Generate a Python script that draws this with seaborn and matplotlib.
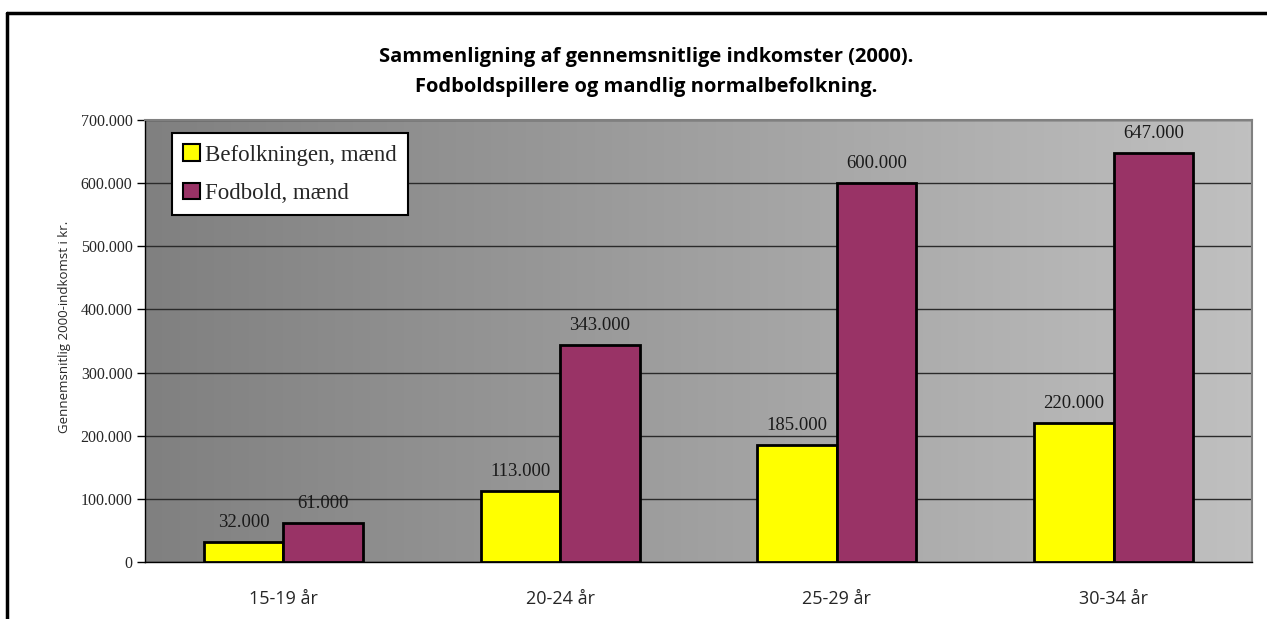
import numpy as np
import pandas as pd
import matplotlib.pyplot as plt
import seaborn as sns
from matplotlib.lines import Line2D
from matplotlib.patches import Patch
from matplotlib.colors import LinearSegmentedColormap

ages = ["15-19 år", "20-24 år", "25-29 år", "30-34 år"]
befolkning = [32000, 113000, 185000, 220000]
fodbold = [61000, 343000, 600000, 647000]
series = ["Befolkningen, mænd", "Fodbold, mænd"]
colors = ["#FFFF00", "#993366"]

df = pd.DataFrame({
    "age": ages * 2,
    "income": befolkning + fodbold,
    "serie": [series[0]] * 4 + [series[1]] * 4,
})

sns.set_style("white")
serif = ["Liberation Serif", "DejaVu Serif"]
sans = ["Open Sans", "DejaVu Sans"]

fig = plt.figure(figsize=(12.67, 6.19), dpi=100)
ax = fig.add_axes([145 / 1267, 1 - 562 / 619, 1107 / 1267, 442 / 619])

# frame around the chart (left and top visible)
fig.add_artist(Line2D([7 / 1267, 7 / 1267], [0, 1 - 13 / 619], color="black", lw=2.5, transform=fig.transFigure))
fig.add_artist(Line2D([7 / 1267, 1], [1 - 13 / 619, 1 - 13 / 619], color="black", lw=2.5, transform=fig.transFigure))

# gradient background
grad = np.linspace(0, 1, 256).reshape(1, -1)
cmap = LinearSegmentedColormap.from_list("g", ["#808080", "#c0c0c0"])
ax.imshow(grad, cmap=cmap, extent=(-0.5, 3.5, 0, 700000), aspect="auto", zorder=0)

sns.barplot(data=df, x="age", y="income", hue="serie", palette=colors, width=0.575,
            edgecolor="black", linewidth=2, saturation=1, ax=ax, zorder=3, legend=False)

ax.set_xlim(-0.5, 3.5)
ax.set_ylim(0, 700000)
ax.set_yticks(range(0, 700001, 100000))
ax.set_yticklabels(["0"] + [f"{v // 1000}.000" for v in range(100000, 700001, 100000)],
                   fontfamily=serif, fontsize=11.5)
ax.yaxis.grid(True, color="#2a2a2a", lw=1)
for line in ax.get_ygridlines():
    line.set_zorder(1)

ax.set_xticks(range(4))
ax.set_xticklabels(ages, fontfamily=sans, fontsize=13)
ax.set_xticks([-0.5, 0.5, 1.5, 2.5, 3.5], minor=True)
ax.tick_params(axis="x", which="major", length=0, pad=20)
ax.tick_params(axis="x", which="minor", length=6, width=1, color="black", direction="out")
ax.tick_params(axis="y", length=6, width=1, color="black", direction="out", left=True, pad=3)

for s in ["top", "right"]:
    ax.spines[s].set_color("#808080")
    ax.spines[s].set_linewidth(1.5)
for s in ["left", "bottom"]:
    ax.spines[s].set_color("black")
    ax.spines[s].set_linewidth(1)

ax.set_xlabel("")
ax.set_ylabel("Gennemsnitlig 2000-indkomst i kr.", fontfamily=sans, fontsize=9.5)
ax.yaxis.set_label_coords((71 - 145) / 1107, (562 - 327) / 442)

for cont in ax.containers:
    ax.bar_label(cont, labels=[f"{int(v.get_height()) // 1000}.000" for v in cont],
                 padding=8, fontfamily=serif, fontsize=13.5, color="#1a1a1a")

handles = [Patch(facecolor=c, edgecolor="black", linewidth=1.5) for c in colors]
leg = ax.legend(handles, series, loc="upper left", bbox_to_anchor=(27 / 1107, 1 - 13 / 442),
                frameon=True, fancybox=False, framealpha=1, edgecolor="black",
                prop={"family": serif, "size": 16.5}, handlelength=0.7, handleheight=0.7,
                handletextpad=0.25, labelspacing=0.75, borderpad=0.5, borderaxespad=0)
leg.get_frame().set_linewidth(1.5)
leg.set_zorder(5)

fig.text(646 / 1267, 1 - 57 / 619, "Sammenligning af gennemsnitlige indkomster (2000).",
         ha="center", va="center", fontfamily=sans, fontweight="bold", fontsize=14.5, color="black")
fig.text(646 / 1267, 1 - 87 / 619, "Fodboldspillere og mandlig normalbefolkning.",
         ha="center", va="center", fontfamily=sans, fontweight="bold", fontsize=14.5, color="black")

fig.savefig("out.png", dpi=100)
